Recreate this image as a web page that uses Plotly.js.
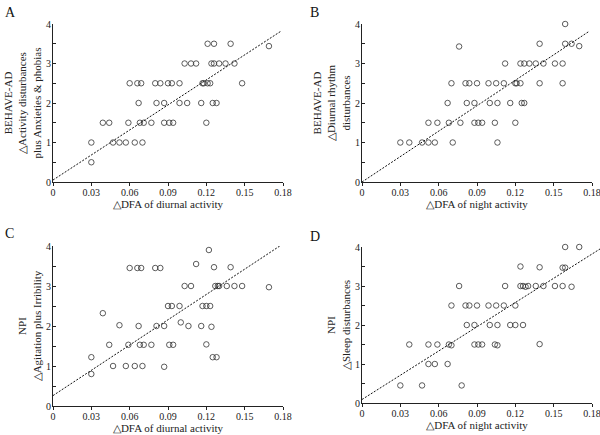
<!DOCTYPE html>
<html>
<head>
<meta charset="utf-8">
<script src="https://cdn.plot.ly/plotly-3.0.1.min.js"></script>
<style>html,body{margin:0;padding:0;background:#fff;}#chart{width:600px;height:435px;}</style>
</head>
<body>
<div id="chart"></div>
<script>
// ---- Data ----
const xTickVals = [0, 0.03, 0.06, 0.09, 0.12, 0.15, 0.18];
const xTickText = ["0", "0.03", "0.06", "0.09", "0.12", "0.15", "0.18"];
const yTickVals = [0, 1, 2, 3, 4];
const yTickText = ["0", "1", "2", "3", "4"];

// Panel A: ΔDFA diurnal vs BEHAVE-AD activity disturbances + anxieties & phobias
const aX = [0.030,0.030,0.039,0.044,0.047,0.052,0.057,0.059,0.060,0.064,0.066,0.067,0.068,0.069,0.070,0.071,0.077,0.080,0.081,0.084,0.087,0.087,0.090,0.091,0.093,0.094,0.099,0.099,0.103,0.105,0.108,0.112,0.116,0.117,0.118,0.120,0.121,0.121,0.123,0.124,0.126,0.125,0.126,0.128,0.130,0.135,0.139,0.142,0.148,0.169];
const aY = [1,0.5,1.5,1.5,1,1,1,1.5,2.5,1,2.5,2,1.5,2.5,1,1.5,1.5,2.5,2,2.5,2,1.5,2.5,1.5,2.5,1.5,2.5,2,3,2,3,3,2,2.5,2.5,1.5,2.5,3.5,2.5,3,3.5,2,3,2,3,3,3.5,3,2.5,3.44];
const aLineX = [0, 0.1785];
const aLineY = [0.05, 3.82];

// Panel B: ΔDFA night vs BEHAVE-AD diurnal rhythm disturbances
const bX = [0.030,0.037,0.047,0.052,0.052,0.057,0.059,0.067,0.068,0.070,0.071,0.076,0.077,0.081,0.082,0.084,0.088,0.088,0.090,0.091,0.094,0.099,0.100,0.104,0.105,0.106,0.106,0.112,0.111,0.116,0.120,0.120,0.121,0.124,0.124,0.125,0.127,0.127,0.131,0.136,0.139,0.139,0.142,0.151,0.157,0.157,0.159,0.159,0.164,0.170];
const bY = [1,1,1,1,1.5,1,1.5,2,1.5,2.5,1,3.43,1.5,2.5,2,2.5,2,1.5,2.5,1.5,1.5,2.5,2,1.5,2.5,2,1,3,2.5,2,2.5,1.5,2.5,3,2.5,2,3,2,3,3,3.5,2.5,3,3,3,2.5,4,3.5,3.5,3.44];
const bLineX = [0, 0.178];
const bLineY = [0.0, 3.82];

// Panel C: ΔDFA diurnal vs NPI agitation plus irritability
const cX = [0.030,0.030,0.039,0.044,0.047,0.052,0.057,0.059,0.060,0.064,0.066,0.067,0.068,0.069,0.070,0.071,0.077,0.080,0.081,0.084,0.087,0.087,0.090,0.091,0.093,0.094,0.099,0.100,0.103,0.106,0.108,0.112,0.116,0.117,0.120,0.120,0.122,0.123,0.124,0.125,0.126,0.127,0.128,0.129,0.130,0.136,0.139,0.142,0.148,0.169];
const cY = [1.22,0.8,2.32,1.53,1.0,2.02,1.0,1.53,3.45,1.0,3.45,2.0,1.53,3.45,1.0,1.53,1.53,3.45,2.0,3.45,2.0,0.98,2.5,1.53,2.5,1.53,2.5,2.09,3.0,2.0,3.0,3.55,2.0,2.5,1.54,2.5,3.9,2.5,1.98,1.22,3.47,3.0,1.22,3.0,3.0,3.0,3.47,3.0,3.0,2.97];
const cLineX = [0, 0.1775];
const cLineY = [0.26, 4.0];

// Panel D: ΔDFA night vs NPI sleep disturbances
const dX = [0.030,0.037,0.047,0.052,0.052,0.057,0.059,0.067,0.068,0.070,0.070,0.076,0.078,0.081,0.082,0.084,0.088,0.088,0.090,0.091,0.094,0.099,0.100,0.104,0.105,0.106,0.106,0.111,0.112,0.116,0.120,0.120,0.124,0.124,0.126,0.126,0.128,0.130,0.136,0.139,0.139,0.142,0.151,0.157,0.157,0.159,0.159,0.164,0.170];
const dY = [0.45,1.5,0.45,1.5,1.0,1.0,1.5,1.0,1.5,2.5,1.48,3.0,0.45,2.5,2.0,2.5,2.0,1.5,2.5,1.5,1.5,2.5,2.0,1.5,2.5,2.0,1.48,2.5,3.0,2.0,2.5,2.0,3.5,3.0,2.0,3.0,2.98,3.0,3.0,3.48,1.51,3.0,3.0,3.0,3.47,3.47,4.0,2.98,4.0];
const dLineX = [0, 0.1863];
const dLineY = [0.09, 3.95];

const panelLetters = ["A", "B", "C", "D"];
const xTitles = ["\u25B3DFA of diurnal activity", "\u25B3DFA of night activity", "\u25B3DFA of diurnal activity", "\u25B3DFA of night activity"];
const yTitles = [
  "BEHAVE-AD<br>\u25B3Activity disturbances<br>plus Anxieties &amp; phobias",
  "BEHAVE-AD<br>\u25B3Diurnal rhythm<br>disturbances",
  "NPI<br>\u25B3Agitation plus Irribility",
  "NPI<br>\u25B3Sleep disturbances"
];

// ---- Styling ----
const FONT = "Liberation Serif, 'Times New Roman', serif";
const INK = "#222";

function pts(x, y, xa, ya) {
  return {x, y, xaxis: xa, yaxis: ya, type: "scatter", mode: "markers", hoverinfo: "skip", cliponaxis: false,
    marker: {symbol: "circle-open", size: 5.5, color: "#333", line: {width: 0.8, color: "#333"}}};
}
function fit(x, y, xa, ya) {
  return {x, y, xaxis: xa, yaxis: ya, type: "scatter", mode: "lines", hoverinfo: "skip",
    line: {color: "#111", width: 1, dash: "2px,1.5px"}};
}

const data = [
  pts(aX, aY, "x", "y"), fit(aLineX, aLineY, "x", "y"),
  pts(bX, bY, "x2", "y2"), fit(bLineX, bLineY, "x2", "y2"),
  pts(cX, cY, "x3", "y3"), fit(cLineX, cLineY, "x3", "y3"),
  fit(dLineX, dLineY, "x5", "y4"), pts(dX, dY, "x4", "y4")
];

function xax(domain, anchor, title) {
  return {domain, anchor, range: [0, 0.18], tickmode: "array", tickvals: xTickVals, ticktext: xTickText,
    showline: true, linecolor: INK, linewidth: 1, mirror: false, ticks: "outside", ticklen: 3, tickwidth: 1, tickcolor: INK,
    ticklabelstandoff: -2, ticklabeloverflow: "allow",
    showgrid: false, zeroline: false, fixedrange: true, automargin: false,
    tickfont: {family: FONT, size: 10, color: INK},
    title: {text: title, font: {family: FONT, size: 11, color: INK}, standoff: 3}};
}
function yax(domain, anchor, title) {
  return {domain, anchor, range: [0, 4], tickmode: "array", tickvals: yTickVals, ticktext: yTickText,
    showline: true, linecolor: INK, linewidth: 1, ticks: "inside", ticklen: 3, tickwidth: 1, tickcolor: INK,
    ticklabelstandoff: -1, ticklabeloverflow: "allow",
    minor: {tickmode: "linear", tick0: 0, dtick: 0.5, ticks: "inside", ticklen: 3, tickcolor: INK, showgrid: false},
    showgrid: false, zeroline: false, fixedrange: true, automargin: false,
    tickfont: {family: FONT, size: 10, color: INK},
    title: {text: title, font: {family: FONT, size: 11, color: INK}, standoff: 2}};
}

const W = 600, H = 435;
const xL = [53 / W, 283 / W], xR = [362 / W, 592 / W];
const yT = [1 - 182 / H, 1 - 24 / H];
const yBL = [1 - 406 / H, 1 - 246 / H];
const yBR = [1 - 403 / H, 1 - 247 / H];

const layout = {
  width: W, height: H,
  margin: {l: 0, r: 0, t: 0, b: 0},
  paper_bgcolor: "#fff", plot_bgcolor: "rgba(0,0,0,0)",
  showlegend: false,
  font: {family: FONT, color: INK},
  xaxis: xax(xL, "y", xTitles[0]), yaxis: yax(yT, "x", yTitles[0]),
  xaxis2: xax(xR, "y2", xTitles[1]), yaxis2: yax(yT, "x2", yTitles[1]),
  xaxis3: xax(xL, "y3", xTitles[2]), yaxis3: yax(yBL, "x3", yTitles[2]),
  xaxis4: xax(xR, "y4", xTitles[3]), yaxis4: yax(yBR, "x4", yTitles[3]),
  // invisible companion axis with the same scale as xaxis4, extended to the page edge for the fit line
  xaxis5: {domain: [362 / W, 1], anchor: "y4", range: [0, 0.18 * (W - 362) / (592 - 362)], visible: false, fixedrange: true},
  annotations: [
    {text: panelLetters[0], x: 3 / W, y: 1 - 12 / H},
    {text: panelLetters[1], x: 308 / W, y: 1 - 12 / H},
    {text: panelLetters[2], x: 3 / W, y: 1 - 233 / H},
    {text: panelLetters[3], x: 308 / W, y: 1 - 236 / H}
  ].map(a => Object.assign(a, {xref: "paper", yref: "paper", xanchor: "left", yanchor: "middle",
    showarrow: false, font: {family: FONT, size: 14, color: "#111"}}))
};

Plotly.newPlot("chart", data, layout, {displayModeBar: false, staticPlot: true});
</script>
</body>
</html>
